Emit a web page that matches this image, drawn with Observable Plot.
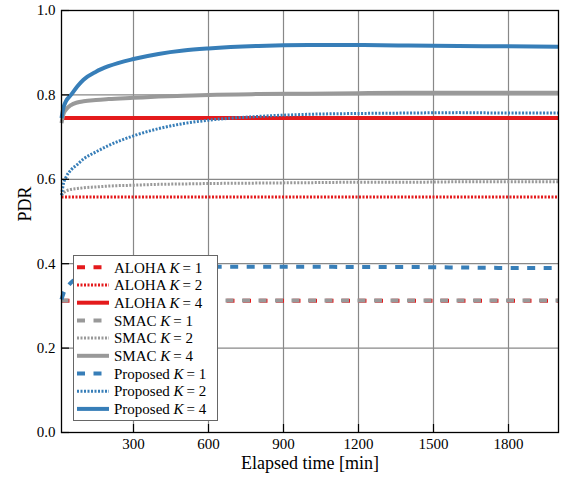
<!DOCTYPE html>
<html><head><meta charset="utf-8">
<script src="https://cdn.jsdelivr.net/npm/d3@7"></script>
<script src="https://cdn.jsdelivr.net/npm/@observablehq/plot@0.6"></script>
<style>
body{margin:0;background:#fff;}
#wrap{position:relative;width:566px;height:481px;font-family:"Liberation Serif","Times New Roman",Times,"DejaVu Serif","Noto Serif",serif;}
#wrap svg text{font-family:"Liberation Serif","Times New Roman",Times,"DejaVu Serif","Noto Serif",serif;}
#legend{position:absolute;left:73px;top:255px;}
</style></head><body><div id="wrap"></div>
<script>
// Elapsed time [min]
const times  = [12, 20, 30, 50, 75, 100, 150, 200, 300, 400, 500, 600, 800, 1000, 1200, 1400, 1600, 1800, 2000];
// PDR values per series
const alohaK1 = [0.312,0.312,0.312,0.312,0.312,0.312,0.312,0.312,0.312,0.312,0.312,0.312,0.312,0.312,0.312,0.312,0.312,0.312,0.312];
const alohaK2 = [0.558,0.558,0.558,0.558,0.558,0.558,0.558,0.558,0.558,0.558,0.558,0.558,0.558,0.558,0.558,0.558,0.558,0.558,0.558];
const alohaK4 = [0.745,0.745,0.745,0.745,0.745,0.745,0.745,0.745,0.745,0.745,0.745,0.745,0.745,0.745,0.745,0.745,0.745,0.745,0.745];
const smacK1  = [0.313,0.313,0.313,0.313,0.313,0.313,0.313,0.313,0.313,0.313,0.313,0.313,0.313,0.313,0.313,0.313,0.313,0.313,0.313];
const smacK2  = [0.562,0.568,0.572,0.576,0.578,0.580,0.582,0.584,0.586,0.588,0.589,0.590,0.591,0.592,0.593,0.593,0.594,0.594,0.594];
const smacK4  = [0.733,0.755,0.765,0.776,0.782,0.785,0.788,0.790,0.793,0.796,0.798,0.800,0.802,0.803,0.804,0.805,0.805,0.805,0.805];
const propK1  = [0.315,0.330,0.340,0.355,0.365,0.372,0.380,0.385,0.389,0.391,0.392,0.393,0.393,0.393,0.392,0.392,0.391,0.390,0.390];
const propK2  = [0.562,0.590,0.605,0.622,0.635,0.648,0.665,0.680,0.703,0.720,0.732,0.740,0.749,0.754,0.756,0.757,0.758,0.757,0.757];
const propK4  = [0.745,0.770,0.785,0.800,0.820,0.836,0.855,0.868,0.885,0.897,0.905,0.910,0.916,0.918,0.918,0.917,0.916,0.915,0.914];
const xTicks = [300, 600, 900, 1200, 1500, 1800];
const yTicks = [0, 0.2, 0.4, 0.6, 0.8, 1.0];

const FONT = "'Liberation Serif', 'Times New Roman', Times, 'DejaVu Serif', 'Noto Serif', serif";
const RED = "#e41a1c", GRAY = "#999999", BLUE = "#377eb8";
const DASH = "8,8.5", DOT = "2,1.5";
const series = [
  {name: "ALOHA", k: 1, values: alohaK1, color: RED,  dash: DASH, width: 4},
  {name: "ALOHA", k: 2, values: alohaK2, color: RED,  dash: DOT,  width: 3},
  {name: "ALOHA", k: 4, values: alohaK4, color: RED,  dash: null, width: 4},
  {name: "SMAC", k: 1, values: smacK1,  color: GRAY, dash: DASH, width: 4, offset: 1},
  {name: "SMAC", k: 2, values: smacK2,  color: GRAY, dash: DOT,  width: 3},
  {name: "SMAC", k: 4, values: smacK4,  color: GRAY, dash: null, width: 4},
  {name: "Proposed", k: 1, values: propK1, color: BLUE, dash: DASH, width: 4},
  {name: "Proposed", k: 2, values: propK2, color: BLUE, dash: DOT,  width: 3},
  {name: "Proposed", k: 4, values: propK4, color: BLUE, dash: null, width: 4}
];

const lineMarks = series.map(s => Plot.line(times.map((t, i) => ({t, v: s.values[i]})), {
  x: "t", y: "v", stroke: s.color, strokeWidth: s.width,
  strokeDasharray: s.dash || undefined, strokeDashoffset: s.offset || 0,
  strokeLinecap: "butt", strokeLinejoin: "round", curve: "monotone-x"
}));

const chart = Plot.plot({
  width: 566, height: 481,
  marginLeft: 61, marginRight: 8, marginTop: 10, marginBottom: 49,
  style: {fontFamily: FONT, fontSize: "15px", color: "black", background: "white"},
  x: {domain: [12, 2000]},
  y: {domain: [0, 1]},
  marks: [
    Plot.gridX(xTicks, {stroke: "#888", strokeOpacity: 1, strokeWidth: 1.2}),
    Plot.gridY(yTicks, {stroke: "#888", strokeOpacity: 1, strokeWidth: 1.2}),
    ...lineMarks,
    Plot.frame({stroke: "black", strokeWidth: 1.3}),
    Plot.axisX(xTicks, {tickSize: 8, dy: -8, text: null, label: null, strokeWidth: 1.2}),
    Plot.axisX(xTicks, {tickSize: 0, tickPadding: 6, tickFormat: d3.format("d"), label: null, fontSize: 15}),
    Plot.axisY(yTicks, {tickSize: 8, dx: 8, text: null, label: null, strokeWidth: 1.2}),
    Plot.axisY(yTicks, {tickSize: 0, tickPadding: 6, tickFormat: d3.format(".1f"), label: null, fontSize: 15}),
    Plot.text(["Elapsed time [min]"], {frameAnchor: "bottom", dy: 31, lineAnchor: "middle", fontSize: 18}),
    Plot.text(["PDR"], {frameAnchor: "left", dx: -36, rotate: -90, lineAnchor: "middle", fontSize: 18})
  ]
});
const wrap = document.getElementById("wrap");
wrap.appendChild(chart);

// Legend overlay
const rowH = 17.7, lw = 145, lh = 166;
const leg = d3.create("svg").attr("id", "legend").attr("width", lw).attr("height", lh)
  .style("font-family", FONT).style("font-size", "15px");
leg.append("rect").attr("x", 0.5).attr("y", 0.5).attr("width", lw - 1).attr("height", lh - 1)
  .attr("fill", "white").attr("stroke", "#666").attr("stroke-width", 1);
series.forEach((s, i) => {
  const y = 12.3 + i * rowH;
  leg.append("line").attr("x1", 4).attr("x2", 36).attr("y1", y).attr("y2", y)
    .attr("stroke", s.color).attr("stroke-width", s.width)
    .attr("stroke-dasharray", s.dash || null);
  const t = leg.append("text").attr("x", 41).attr("y", y).attr("dy", "0.35em").attr("fill", "black");
  t.append("tspan").text(s.name + " ");
  t.append("tspan").attr("font-style", "italic").text("K");
  t.append("tspan").text("\u2009= " + s.k);
});
wrap.appendChild(leg.node());
</script>
</body></html>
